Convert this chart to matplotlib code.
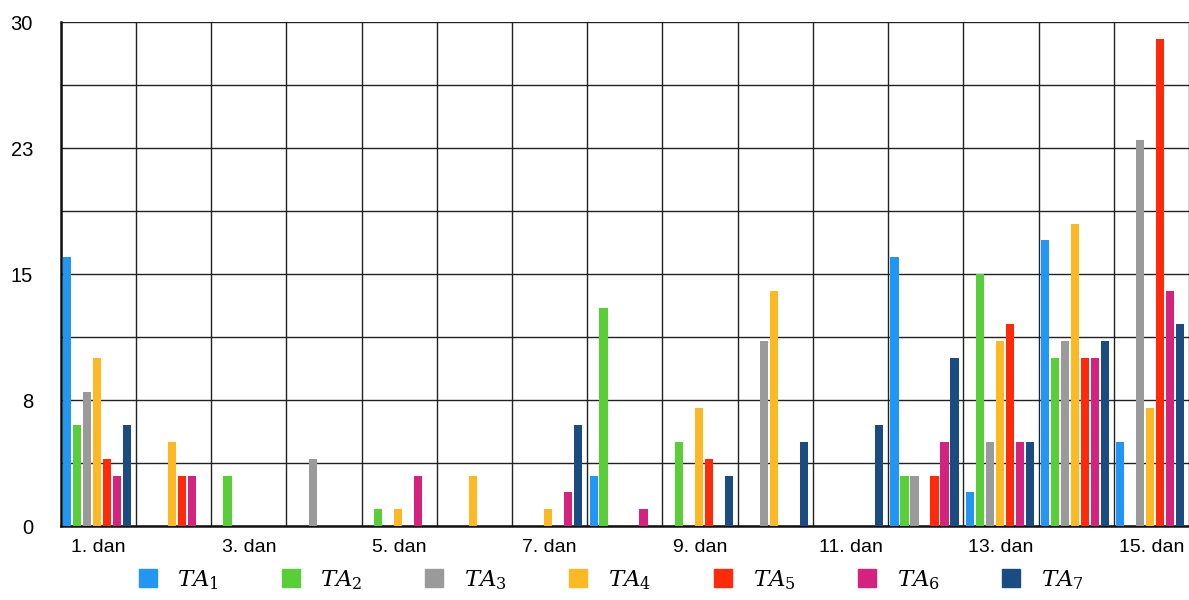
import matplotlib
matplotlib.use("Agg")
import matplotlib.pyplot as plt
from matplotlib.lines import Line2D
import numpy as np

plt.rcParams['font.family'] = ['Liberation Sans', 'DejaVu Sans']
plt.rcParams['mathtext.fontset'] = 'dejavuserif'

days = [f"{i}. dan" for i in range(1, 16)]
series = [r"$TA_1$", r"$TA_2$", r"$TA_3$", r"$TA_4$", r"$TA_5$", r"$TA_6$", r"$TA_7$"]
colors = ['#2196F3', '#58CF37', '#9A9A9A', '#FDB924', '#FF2A0A', '#D4237F', '#1A4C82']

TA1 = [16, 0, 0, 0, 0, 0, 0, 3, 0, 0, 0, 16, 2, 17, 5]
TA2 = [6, 0, 3, 0, 1, 0, 0, 13, 5, 0, 0, 3, 15, 10, 0]
TA3 = [8, 0, 0, 4, 0, 0, 0, 0, 0, 11, 0, 3, 5, 11, 23]
TA4 = [10, 5, 0, 0, 1, 3, 1, 0, 7, 14, 0, 0, 11, 18, 7]
TA5 = [4, 3, 0, 0, 0, 0, 0, 0, 4, 0, 0, 3, 12, 10, 29]
TA6 = [3, 3, 0, 0, 3, 0, 2, 1, 0, 0, 0, 5, 5, 10, 14]
TA7 = [6, 0, 0, 0, 0, 0, 6, 0, 3, 5, 6, 10, 5, 11, 12]
data = [TA1, TA2, TA3, TA4, TA5, TA6, TA7]

ytick_vals = [0, 7.5, 15, 22.5, 30]
ytick_labels = ["0", "8", "15", "23", "30"]

fig = plt.figure(figsize=(11.89, 6.0), dpi=100)
ax = fig.add_axes([60.7 / 1189, 74 / 600, 1 - 60.7 / 1189, (526 - 22) / 600])

x = np.arange(len(days))
slot = 10.0 / 75.3
width = 8.2 / 75.3
shift = -0.017
for j, (vals, c) in enumerate(zip(data, colors)):
    ax.bar(x + (j - 3) * slot + shift, vals, width=width, color=c, zorder=3, linewidth=0)

ax.set_xlim(-0.5, len(days) - 0.5)
ax.set_ylim(0, 30)

ax.set_xticks(x[::2])
ax.set_xticklabels(days[::2], fontsize=14)
ax.set_xticks(np.arange(-0.5, len(days), 1.0), minor=True)
ax.set_yticks(ytick_vals)
ax.set_yticklabels(ytick_labels, fontsize=14.5)
ax.set_yticks(np.arange(0, 30.01, 3.75), minor=True)

ax.tick_params(axis='both', which='both', length=0)
ax.tick_params(axis='y', pad=20)
ax.tick_params(axis='x', pad=9)

ax.xaxis.grid(which='minor', color='#222222', linewidth=1.0, zorder=0)
ax.xaxis.grid(which='major', visible=False)
ax.yaxis.grid(which='both', color='#222222', linewidth=1.0, zorder=0)
ax.set_axisbelow(True)

for s in ['top', 'right']:
    ax.spines[s].set_visible(False)
ax.spines['left'].set_linewidth(1.8)
ax.spines['bottom'].set_linewidth(1.8)
ax.spines['left'].set_color('#111111')
ax.spines['bottom'].set_color('#111111')

handles = [Line2D([0], [0], marker='s', color='none', markerfacecolor=c,
                  markeredgecolor=c, markersize=12.5) for c in colors]
fig.legend(handles, series, loc='center', bbox_to_anchor=(610 / 1189, 0.033),
           ncol=7, frameon=False, fontsize=16.5, handletextpad=0.8,
           columnspacing=2.62, handlelength=1.0)

fig.savefig("out.png", dpi=100)
